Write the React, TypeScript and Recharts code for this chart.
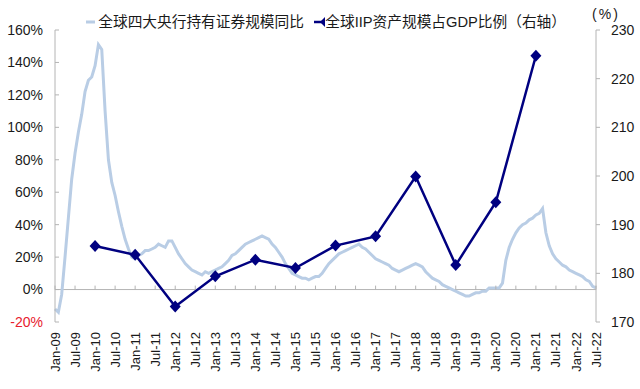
import React from "react";
import {
  LineChart,
  Line,
  XAxis,
  YAxis,
  Legend,
  ReferenceLine,
  Label,
} from "recharts";

// monthly, Jan-09 .. Jul-22 (left axis, %)
const holdingsYoY = [
  -12, -14, -3, 20, 44, 68, 84, 97, 108, 122, 129, 131,
  138, 151, 148, 110, 80, 66, 58, 48, 39, 31, 25, 20,
  19, 21, 22, 24, 24, 25, 26, 28, 27, 26, 30, 30,
  26, 22, 19, 16, 14, 12, 11, 10, 9, 11, 10, 11,
  12, 13, 14, 16, 18, 21, 22, 24, 26, 28, 29, 30,
  31, 32, 33, 32, 31, 28, 26, 23, 20, 16, 13, 10,
  9, 8, 7, 7, 6, 7, 8, 8, 10, 13, 16, 18,
  20, 22, 23, 24, 25, 26, 27, 28, 26, 25, 23, 21,
  19, 18, 17, 16, 15, 13, 12, 11, 12, 13, 14, 15,
  16, 15, 14, 11, 9, 7, 6, 5, 3, 2, 1, 0,
  -1, -2, -3, -4, -4, -3, -2, -2, -1, -1, 1, 1,
  1, 1, 4, 18, 26, 31, 35, 38, 40, 41, 43, 44,
  46, 47, 50, 35, 27, 22, 19, 17, 15, 14, 12, 11,
  10, 9, 8, 6, 5, 2, 1,
];

// annual, right axis
const iipMonths = [12, 24, 36, 48, 60, 72, 84, 96, 108, 120, 132, 144];
const iipValues = [185.6, 183.8, 173.2, 179.4, 182.8, 181.1, 185.7, 187.6, 199.9, 181.7, 194.6, 224.7];

const tickLabels = [
  "Jan-09", "Jul-09", "Jan-10", "Jul-10", "Jan-11", "Jul-11", "Jan-12",
  "Jul-12", "Jan-13", "Jul-13", "Jan-14", "Jul-14", "Jan-15", "Jul-15",
  "Jan-16", "Jul-16", "Jan-17", "Jul-17", "Jan-18", "Jul-18", "Jan-19",
  "Jul-19", "Jan-20", "Jul-20", "Jan-21", "Jul-21", "Jan-22", "Jul-22",
];
const leftTicks = [-20, 0, 20, 40, 60, 80, 100, 120, 140, 160];
const rightTicks = [170, 180, 190, 200, 210, 220, 230];

const BLUE = "#B9CDE5";
const NAVY = "#000080";
const AXIS = "#B4B4B4";
const TEXT = "#1a1a1a";
const FONT = "'Liberation Sans', Arial, sans-serif";

const monthData = holdingsYoY.map((v, i) => ({ idx: i, yoy: v }));
const iipData = iipMonths.map((m, i) => ({ idx: m, iip: iipValues[i] }));
const xTicks = tickLabels.map((_, i) => i * 6);

const LeftTick = (props: any) => {
  const { x, y, payload } = props;
  const v = payload.value;
  return (
    <g>
      <line x1={x + 12} x2={x + 16} y1={y} y2={y} stroke={AXIS} />
      <text x={x} y={y} dy="0.35em" textAnchor="end" fontSize={14} fontFamily={FONT}
        fill={v < 0 ? "#E8202E" : TEXT}>
        {v}%
      </text>
    </g>
  );
};

const BottomTick = (props: any) => {
  const { x, y, index } = props;
  const zeroY = y - 10 - 32.4;
  return (
    <g>
      <line x1={x} x2={x} y1={zeroY} y2={zeroY - 4} stroke={AXIS} />
      <text transform={`translate(${x},${y}) rotate(-90)`} dy="0.35em" textAnchor="end"
        fontSize={13} fontFamily={FONT} fill={TEXT}>
        {tickLabels[index]}
      </text>
    </g>
  );
};

const Diamond = (props: any) => {
  const { cx, cy, index } = props;
  if (cx == null || cy == null) return <g key={index} />;
  return (
    <path key={index} d={`M${cx},${cy - 6}L${cx + 5.5},${cy}L${cx},${cy + 6}L${cx - 5.5},${cy}Z`} fill={NAVY} />
  );
};

const LegendBox = () => (
  <div style={{ display: "flex", alignItems: "center", whiteSpace: "nowrap", lineHeight: "20px",
    fontFamily: "'Liberation Sans', 'Noto Sans CJK SC', sans-serif", fontSize: 14.7, color: TEXT }}>
    <svg width={18} height={10}>
      <line x1={0} x2={18} y1={5} y2={5} stroke={BLUE} strokeWidth={3} />
    </svg>
    <span style={{ marginLeft: 3 }}>全球四大央行持有证券规模同比</span>
    <svg width={22} height={12} style={{ marginLeft: 10 }}>
      <line x1={0} x2={22} y1={6} y2={6} stroke={NAVY} strokeWidth={2.5} />
      <path d="M11,1L16,6L11,11L6,6Z" fill={NAVY} />
    </svg>
    <span>全球IIP资产规模占GDP比例（右轴）</span>
  </div>
);

export default function App() {
  return (
    <div style={{ position: "absolute", left: 0, top: 0, width: 640, height: 389, background: "#fff" }}>
      <LineChart width={640} height={389} data={monthData} margin={{ top: 30, right: 0, bottom: 0, left: 0 }}>
        <XAxis dataKey="idx" type="number" domain={[0, 162]} ticks={xTicks} interval={0}
          axisLine={false} tickLine={false} tickSize={0} tickMargin={10} height={67}
          tick={<BottomTick />} />
        <YAxis yAxisId="left" domain={[-20, 160]} ticks={leftTicks} interval={0} width={55}
          axisLine={{ stroke: AXIS }} tickLine={false} tickSize={0} tickMargin={12}
          tick={<LeftTick />} />
        <YAxis yAxisId="right" orientation="right" domain={[170, 230]} ticks={rightTicks} interval={0}
          width={44} axisLine={{ stroke: AXIS }} tickLine={{ stroke: AXIS }} tickSize={4} tickMargin={8}
          tick={{ fontSize: 14, fill: TEXT, fontFamily: FONT, dx: 3 }}>
          <Label position="top" content={() => (
            <text x={606} y={19} textAnchor="middle" fontSize={14} fontFamily={FONT} fill={TEXT}
              letterSpacing={2}>(%)</text>
          )} />
        </YAxis>
        <ReferenceLine yAxisId="left" y={0} stroke={AXIS} />
        <Legend verticalAlign="middle" content={<LegendBox />}
          wrapperStyle={{ top: 12, left: 86, width: 480 }} />
        <Line yAxisId="left" dataKey="yoy" stroke={BLUE} strokeWidth={3} dot={false}
          isAnimationActive={false} legendType="line" />
        <Line yAxisId="right" data={iipData} dataKey="iip" stroke={NAVY} strokeWidth={2.5}
          dot={<Diamond />} activeDot={false} isAnimationActive={false} />
      </LineChart>
    </div>
  );
}
